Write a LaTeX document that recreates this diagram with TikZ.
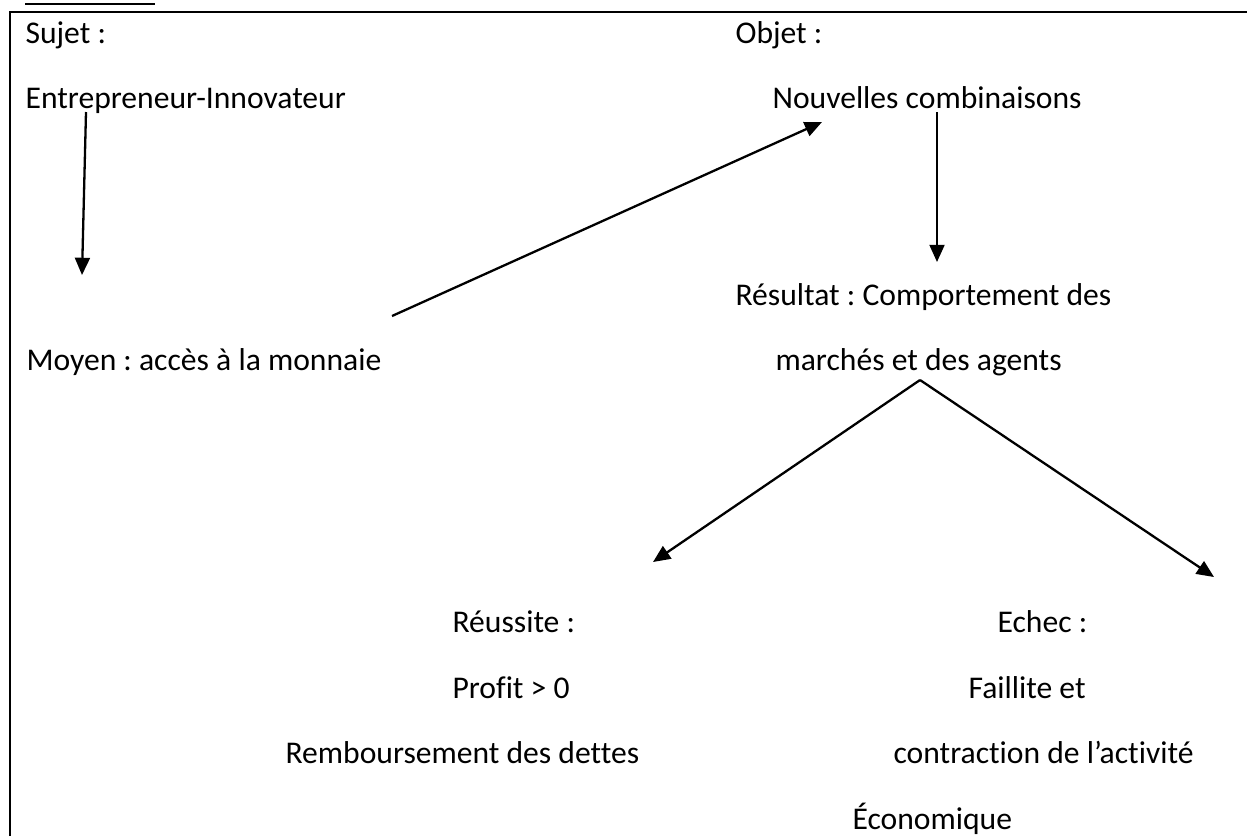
\documentclass[tikz,border=0pt]{standalone}
\usepackage{fontspec}
\setmainfont{Carlito}[Ligatures=NoCommon]
\usetikzlibrary{arrows.meta,positioning}
\frenchspacing

\begin{document}
\begin{tikzpicture}[x=0.348pt,y=-0.348pt,font=\fontsize{11}{13}\selectfont,
    txt/.style={anchor=base west,inner sep=0pt},
    flow/.style={black,line width=0.8pt,-{Triangle[length=6pt,width=5.2pt]}}]
      \useasboundingbox (0,0) rectangle (1247,836);

      %frame
      \draw[line width=0.8pt] (10,836) -- (10,12) -- (1247,12);
      \draw[line width=0.7pt] (25,4) -- (155,4);

      %left column
      \node[txt] (sujet) at (25,43) {Sujet :};
      \node[txt] (entrepreneur) at (25,108) {Entrepreneur-Innovateur};
      \node[txt] (moyen) at (26,370) {Moyen : accès à la monnaie};

      %right column
      \node[txt] (objet) at (735,43) {Objet :};
      \node[txt] (combinaisons) at (772,108) {Nouvelles combinaisons};
      \node[txt] (resultat) at (735,305) {Résultat : Comportement des};
      \node[txt] (marches) at (775,370) {marchés et des agents};

      %outcomes
      \node[txt] (reussite) at (452,632) {Réussite :};
      \node[txt] (profit) at (452,698) {Profit > 0};
      \node[txt] (remboursement) at (285,763) {Remboursement des dettes};
      \node[txt] (echec) at (997,632) {Echec :};
      \node[txt] (faillite) at (968,698) {Faillite et};
      \node[txt] (contraction) at (893,763) {contraction de l’activité};
      \node[txt] (economique) at (852,829) {Économique};

      %arrow ends
      \coordinate (e1) at (86,112);
      \coordinate (m1) at (82,275);
      \coordinate (m2) at (392,316);
      \coordinate (c1) at (822,122);
      \coordinate (c2) at (937,112);
      \coordinate (r1) at (937,262);
      \coordinate (peak) at (920,380);
      \coordinate (win) at (653,562);
      \coordinate (lose) at (1214,577);

      %arrows
      \draw[flow] (e1) -- (m1);
      \draw[flow] (m2) -- (c1);
      \draw[flow] (c2) -- (r1);
      \draw[flow] (peak) -- (win);
      \draw[flow] (peak) -- (lose);
    \end{tikzpicture}
\end{document}
